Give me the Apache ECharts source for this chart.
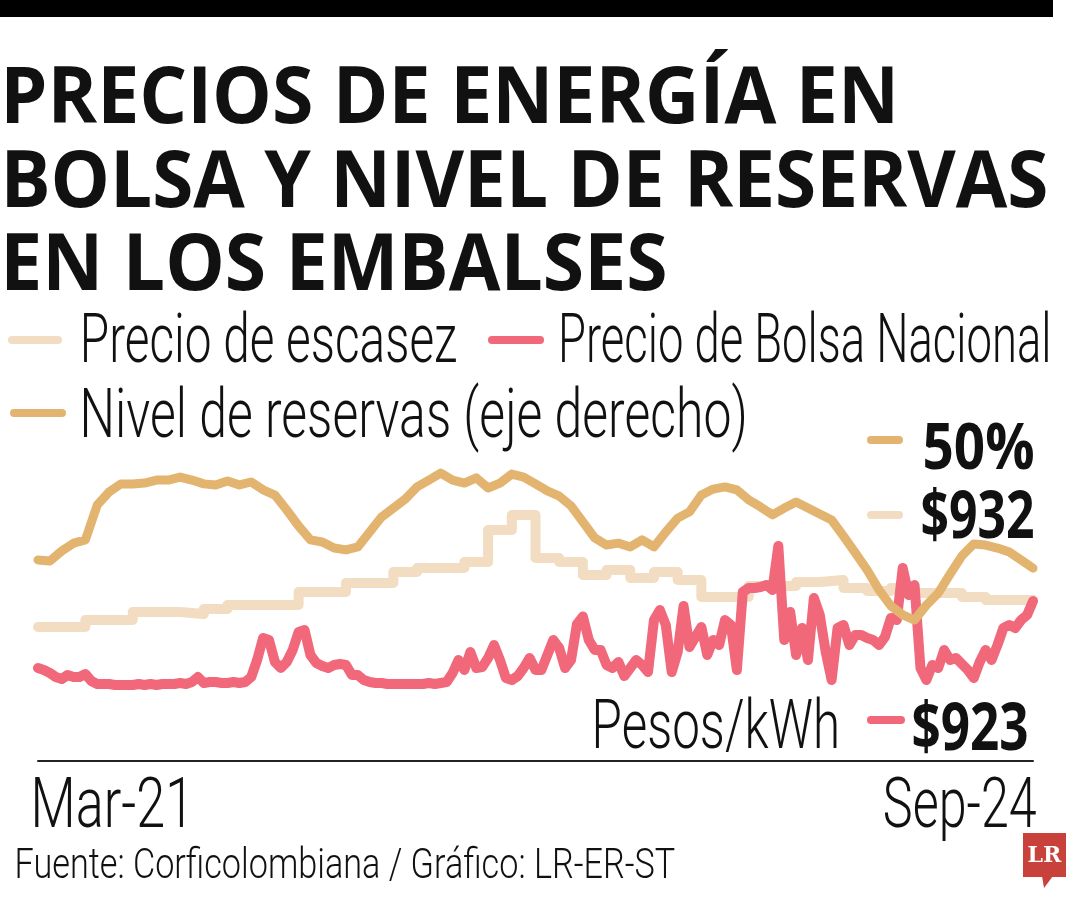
<!DOCTYPE html>
<html>
<head>
    <meta charset="utf-8">
    <title>Precios de energía en bolsa y nivel de reservas</title>
    <script src="https://cdn.jsdelivr.net/npm/echarts@6/dist/echarts.min.js"></script>
    <style>
        html, body { margin: 0; padding: 0; background: #fff; }
        #main { width: 1080px; height: 900px; }
    </style>
</head>
<body>
<div id="main"></div>
<script>
    // Nivel de reservas (%), quincenal, Mar-21 a Sep-24
    var reservas = [
        53.0, 52.6, 56.3, 59.2, 60.4, 73.2, 78.0, 81.0, 81.0, 81.3,
        82.4, 82.4, 83.5, 82.4, 81.0, 80.6, 82.1, 80.6, 81.7, 78.8,
        76.9, 71.4, 65.5, 60.4, 59.6, 57.4, 56.7, 57.8, 63.3, 68.8,
        72.1, 75.4, 79.9, 82.4, 85.0, 82.4, 81.3, 83.2, 79.5, 81.3,
        84.6, 83.5, 81.0, 78.4, 76.5, 72.9, 67.0, 61.1, 58.5, 59.2,
        57.8, 60.4, 57.8, 63.3, 68.4, 70.7, 76.9, 79.1, 79.9, 78.8,
        75.1, 72.5, 69.6, 72.1, 74.3, 72.1, 69.9, 67.7, 61.8, 55.6,
        49.3, 42.0, 36.1, 32.8, 30.9, 36.4, 40.8, 47.8, 54.5, 58.9,
        58.5, 57.4, 55.9, 53.0, 50.0
    ];
    // Precio de escasez ($/kWh), mensual
    var escasez = [
        716, 716, 772, 772, 836, 836, 820, 860, 892, 892,
        892, 996, 996, 1068, 1068, 1156, 1188, 1188, 1236, 1492,
        1612, 1268, 1236, 1132, 1172, 1108, 1156, 1092, 956, 956,
        1044, 1044, 1076, 1092, 1028, 1004, 1028, 988, 988, 956,
        932, 932, 932
    ];
    // Precio de Bolsa Nacional ($/kWh), cada cuarto de mes
    var bolsa = [
        388, 372, 348, 316, 300, 332, 316, 316, 340, 284,
        260, 260, 260, 252, 252, 252, 252, 260, 252, 260,
        252, 260, 260, 260, 268, 260, 276, 316, 268, 276,
        276, 268, 268, 276, 268, 276, 316, 452, 628, 612,
        436, 388, 436, 532, 676, 692, 492, 428, 404, 388,
        412, 420, 412, 332, 332, 292, 276, 268, 268, 260,
        260, 260, 260, 260, 260, 260, 268, 260, 268, 276,
        348, 452, 372, 516, 388, 396, 468, 572, 452, 308,
        292, 324, 388, 468, 372, 372, 492, 612, 548, 388,
        452, 740, 800, 612, 532, 532, 412, 388, 436, 324,
        388, 452, 412, 356, 772, 852, 732, 356, 516, 884,
        556, 636, 716, 492, 612, 572, 772, 732, 372, 996,
        1028, 1028, 1036, 1052, 1012, 1364, 612, 836, 492, 708,
        452, 948, 812, 516, 292, 708, 732, 572, 652, 652,
        628, 612, 572, 636, 788, 772, 1188, 972, 1052, 388,
        292, 412, 388, 532, 452, 468, 420, 372, 308, 436,
        532, 452, 572, 708, 732, 708, 772, 812, 923
    ];
    var etiquetasX = ['Mar-21', 'Sep-24'];
    var nombres = ['Precio de escasez', 'Precio de Bolsa Nacional', 'Nivel de reservas (eje derecho)'];
    var finales = ['50%', '$932', '$923'];

    var cReservas = '#e3b46f', cEscasez = '#f2dcc2', cBolsa = '#f0687a';
    var LIGERA = 'Roboto, "Open Sans", sans-serif';
    var NEGRITA = '"Open Sans", Roboto, sans-serif';

    // texto "condensado": se mide y se estira en X para ocupar el ancho del original
    var ctx = document.createElement('canvas').getContext('2d');
    function texto(txt, o) {
        ctx.textBaseline = 'middle';
        ctx.textAlign = 'left';
        ctx.font = o.weight + ' 100px ' + o.family;
        var h = ctx.measureText('H');
        var size = o.cap * 100 / (h.actualBoundingBoxAscent + h.actualBoundingBoxDescent);
        ctx.font = o.weight + ' ' + size + 'px ' + o.family;
        h = ctx.measureText('H');
        var m = ctx.measureText(txt);
        var sx = o.width / (m.actualBoundingBoxLeft + m.actualBoundingBoxRight);
        var x = o.left != null ? o.left + m.actualBoundingBoxLeft * sx : o.right - m.actualBoundingBoxRight * sx;
        return {
            type: 'text', x: x, y: o.base - h.actualBoundingBoxDescent, scaleX: sx, silent: true,
            style: {
                text: txt, fontSize: size, fontFamily: o.family, fontWeight: o.weight,
                fill: o.color || '#111', align: 'left', verticalAlign: 'middle'
            }
        };
    }
    function raya(x1, x2, y, color) {
        return {
            type: 'line', silent: true,
            shape: { x1: x1 + 4, y1: y, x2: x2 - 4, y2: y },
            style: { stroke: color, lineWidth: 8, lineCap: 'round' }
        };
    }

    var graficos = [
        { type: 'rect', shape: { x: 0, y: 0, width: 1053, height: 17 }, style: { fill: '#000' } },
        texto('PRECIOS DE ENERGÍA EN', { family: NEGRITA, weight: 'bold', cap: 57, base: 123, left: 7, width: 886 }),
        texto('BOLSA Y NIVEL DE RESERVAS', { family: NEGRITA, weight: 'bold', cap: 57, base: 207, left: 7, width: 1039 }),
        texto('EN LOS EMBALSES', { family: NEGRITA, weight: 'bold', cap: 57, base: 290, left: 7, width: 658 }),

        raya(8, 62, 340, cEscasez),
        texto(nombres[0], { family: LIGERA, weight: 300, cap: 48, base: 362, left: 84, width: 372 }),
        raya(488, 544, 340, cBolsa),
        texto(nombres[1], { family: LIGERA, weight: 300, cap: 48, base: 362, left: 562, width: 486 }),
        raya(10, 66, 413, cReservas),
        texto(nombres[2], { family: LIGERA, weight: 300, cap: 48, base: 437, left: 84, width: 660 }),

        raya(867, 903, 440, cReservas),
        texto(finales[0], { family: NEGRITA, weight: 'bold', cap: 47, base: 469, left: 925, width: 108 }),
        raya(867, 903, 515, cEscasez),
        texto(finales[1], { family: NEGRITA, weight: 'bold', cap: 48, base: 538, left: 922, width: 111 }),
        texto('Pesos/kWh', { family: LIGERA, weight: 300, cap: 48, base: 748, left: 596, width: 241 }),
        raya(867, 905, 720, cBolsa),
        texto(finales[2], { family: NEGRITA, weight: 'bold', cap: 48, base: 750, left: 913, width: 114 }),

        texto(etiquetasX[0], { family: LIGERA, weight: 300, cap: 50, base: 827, left: 35, width: 148 }),
        texto(etiquetasX[1], { family: LIGERA, weight: 300, cap: 50, base: 827, right: 1036, width: 151 }),
        texto('Fuente: Corficolombiana / Gráfico: LR-ER-ST', { family: LIGERA, weight: 300, cap: 30, base: 878, left: 17, width: 658 }),

        // logo LR
        { type: 'rect', shape: { x: 1023, y: 833, width: 43, height: 44 }, style: { fill: '#c8423b' } },
        { type: 'polygon', shape: { points: [[1042, 876], [1053, 876], [1044, 888]] }, style: { fill: '#c8423b' } },
        { type: 'text', x: 1044.5, y: 856, style: { text: 'LR', fontSize: 22, fontWeight: 'bold', fontFamily: '"DejaVu Serif", "Liberation Serif", serif', fill: '#fff', align: 'center', verticalAlign: 'middle' } }
    ];

    var option = {
        backgroundColor: '#fff',
        animation: false,
        grid: { left: 38, right: 47, top: 454, bottom: 196 },
        xAxis: {
            type: 'value', min: 0, max: 42, position: 'bottom', offset: 57,
            axisLine: { show: true, onZero: false, lineStyle: { color: '#222', width: 2 } },
            axisTick: { show: false }, axisLabel: { show: false }, splitLine: { show: false }
        },
        yAxis: [
            { type: 'value', min: 100, max: 2100, show: false },
            { type: 'value', min: 0, max: 92, show: false }
        ],
        series: [
            {
                name: nombres[0], type: 'line', step: 'end', yAxisIndex: 0, symbol: 'none',
                data: escasez.map(function (v, i) { return [i, v]; }),
                lineStyle: { color: cEscasez, width: 10, cap: 'round', join: 'round' }
            },
            {
                name: nombres[1], type: 'line', yAxisIndex: 0, symbol: 'none',
                data: bolsa.map(function (v, i) { return [i / 4, v]; }),
                lineStyle: { color: cBolsa, width: 10, cap: 'round', join: 'round' }
            },
            {
                name: nombres[2], type: 'line', yAxisIndex: 1, symbol: 'none',
                data: reservas.map(function (v, i) { return [i / 2, v]; }),
                lineStyle: { color: cReservas, width: 9, cap: 'round', join: 'round' }
            }
        ],
        graphic: graficos
    };
    var chart = echarts.init(document.getElementById('main'));
    chart.setOption(option);
</script>
</body>
</html>
